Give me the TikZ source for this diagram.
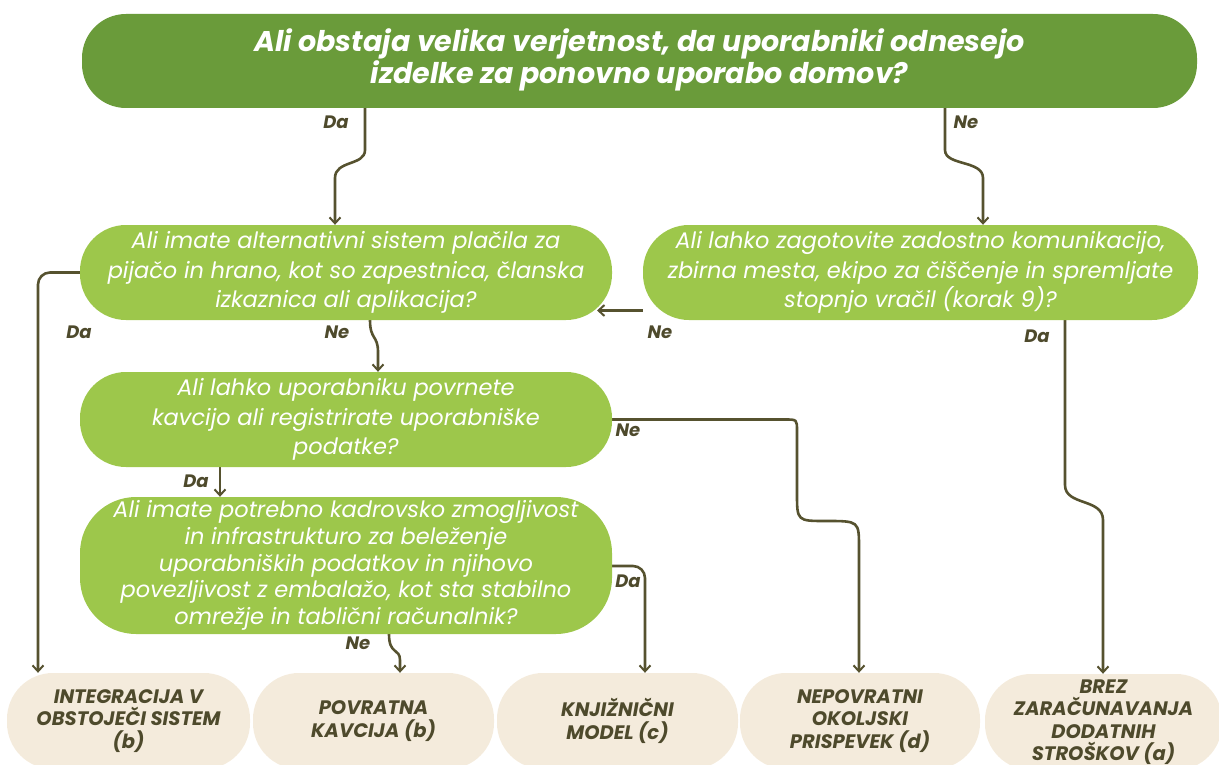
\documentclass[tikz,border=0pt]{standalone}
\usepackage{fontspec}
\setmainfont{Poppins}
\usetikzlibrary{arrows.meta,backgrounds}
\definecolor{dgreen}{HTML}{6A9B3A}
\definecolor{lgreen}{HTML}{9DC74B}
\definecolor{beige}{HTML}{F4EBDC}
\definecolor{olive}{HTML}{56522F}
\definecolor{labc}{HTML}{4E4A2C}
\tikzset{
  topbox/.style={fill=dgreen, rounded corners=44pt, inner sep=0pt, text=white, align=center,
    font=\fontsize{28.5}{31}\selectfont\bfseries\itshape},
  qbox/.style={fill=lgreen, rounded corners=46pt, inner sep=0pt, text=white, align=center,
    font=\fontsize{22.5}{29.5}\selectfont\itshape},
  resbox/.style={fill=beige, rounded corners=46pt, inner sep=0pt, text=labc, align=center,
    font=\fontsize{19.5}{22.5}\selectfont\bfseries\itshape},
  conn/.style={draw=olive, line width=2.6pt, -{Straight Barb[length=6pt,width=11pt,line width=2pt]}},
  lab/.style={text=labc, font=\fontsize{18}{20}\selectfont\bfseries\itshape, inner sep=0pt},
}
\begin{document}
\begin{tikzpicture}[x=1pt,y=-1pt]
\useasboundingbox (0,0) rectangle (1219,765);
\clip (0,0) rectangle (1219,765);
% nodes
\node[topbox, minimum width=1115pt, minimum height=94pt] (top) at (639.5,61)
  {\raisebox{-2pt}{\begin{tabular}{@{}c@{}}Ali obstaja velika verjetnost, da uporabniki odnesejo\\izdelke za ponovno uporabo domov?\end{tabular}}};
\node[qbox, minimum width=532pt, minimum height=95pt] (q1) at (346,272.5)
  {Ali imate alternativni sistem plačila za\\pijačo in hrano, kot so zapestnica, članska\\izkaznica ali aplikacija?};
\node[qbox, minimum width=555pt, minimum height=95pt] (q2) at (920.5,272.5)
  {Ali lahko zagotovite zadostno komunikacijo,\\zbirna mesta, ekipo za čiščenje in spremljate\\stopnjo vračil (korak 9)?};
\node[qbox, minimum width=532pt, minimum height=95pt] (q3) at (346,419.5)
  {Ali lahko uporabniku povrnete\\kavcijo ali registrirate uporabniške\\podatke?};
\node[qbox, minimum width=532pt, minimum height=137pt, rounded corners=56pt,
  font=\fontsize{22.5}{26.8}\selectfont\itshape] (q4) at (346,565.5)
  {Ali imate potrebno kadrovsko zmogljivost\\in infrastrukturo za beleženje\\uporabniških podatkov in njihovo\\povezljivost z embalažo, kot sta stabilno\\omrežje in tablični računalnik?};
\node[resbox, minimum width=243pt, minimum height=96pt] (b1) at (128.5,721)
  {INTEGRACIJA V\\OBSTOJEČI SISTEM\\(b)};
\node[resbox, minimum width=241pt, minimum height=96pt] (b2) at (373.5,721)
  {POVRATNA\\KAVCIJA (b)};
\node[resbox, minimum width=241pt, minimum height=96pt] (b3) at (617.5,721)
  {KNJIŽNIČNI\\MODEL (c)};
\node[resbox, minimum width=240pt, minimum height=96pt] (b4) at (860,721)
  {NEPOVRATNI\\OKOLJSKI\\PRISPEVEK (d)};
\node[resbox, minimum width=237pt, minimum height=96pt] (b5) at (1103.5,722)
  {BREZ\\ZARAČUNAVANJA\\DODATNIH\\STROŠKOV (a)};
% connectors
\begin{scope}[on background layer]
\draw[conn] (top.south -| 365,0) -- (365,150) .. controls (365,166) and (335,160) .. (335,178) -- (q1.north -| 335,0);
\draw[conn] (top.south -| 945,0) -- (945,150) .. controls (945,166) and (983,160) .. (983,178) -- (q2.north -| 983,0);
\draw[conn, rounded corners=12pt] (q1.west) -- (38,272.5) -- (b1.north -| 38,0);
\draw[conn] (q1.south -| 370,0) .. controls (370,340) and (378,335) .. (378,352) -- (q3.north -| 378,0);
\draw[conn] ([yshift=-38pt]q2.west) -- (597,310.5);
\draw[conn] (q2.south -| 1065,0) -- (1065,485) .. controls (1065,506) and (1103,498) .. (1103,520) -- (b5.north -| 1103,0);
\draw[conn] (q3.east) -- (785,419.5) .. controls (797,419.5) .. (797,431) -- (797,493)
  .. controls (797,521) .. (826,521) .. controls (859,521) .. (859,548) -- (b4.north -| 859,0);
\draw[conn] (q3.south -| 220,0) -- (q4.north -| 220,0);
\draw[conn] (q4.south -| 389,0) .. controls (389,655) and (400,648) .. (400,660) -- (b2.north -| 400,0);
\draw[conn, rounded corners=12pt] (q4.east |- 0,566) -- (645,566) -- (b3.north -| 645,0);
\end{scope}
% labels
\node[lab] (l1) at (336,122) {Da};
\node[lab] (l2) at (966,122) {Ne};
\node[lab] (l3) at (79,332) {Da};
\node[lab] (l4) at (337,332) {Ne};
\node[lab] (l5) at (660,332) {Ne};
\node[lab] (l6) at (1037,336) {Da};
\node[lab] (l7) at (628,430) {Ne};
\node[lab] (l8) at (196,481) {Da};
\node[lab] (l9) at (358,643) {Ne};
\node[lab] (l10) at (628,581) {Da};
\end{tikzpicture}
\end{document}
